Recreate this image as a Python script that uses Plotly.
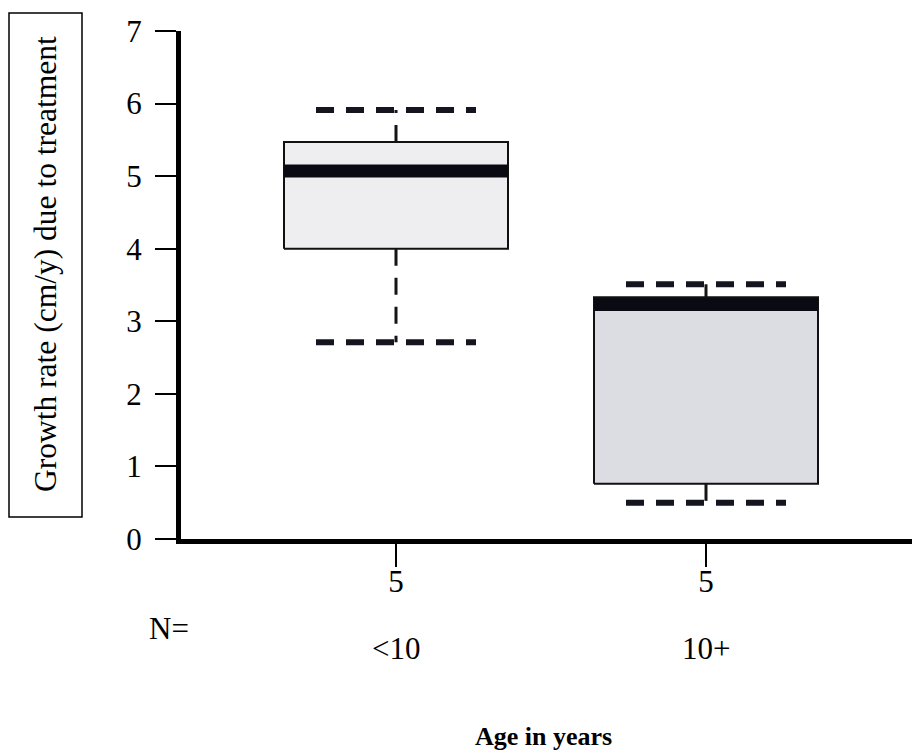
import plotly.graph_objects as go

# ---- data ----
categories = ["<10", "10+"]
n_counts = [5, 5]
lower_whisker = [2.71, 0.50]
q1 = [4.00, 0.76]
median = [5.07, 3.23]
q3 = [5.47, 3.33]
upper_whisker = [5.91, 3.51]
y_ticks = [0, 1, 2, 3, 4, 5, 6, 7]

# ---- layout / style ----
W, H = 912, 755
L, R, T, B = 181, 0, 31, 216
PW, PH = W - L - R, H - T - B
FONT = "Liberation Serif, Times New Roman, serif"
box_fills = ["#eeeef1", "#dcdce3"]
cx_px = [396, 706]                      # pixel centres of the two categories
ppu = cx_px[1] - cx_px[0]
x_range = [(L - cx_px[0]) / ppu, (W - R - cx_px[0]) / ppu]
half_box = 112 / ppu
half_cap = 80 / ppu


def px_x(px):
    return (px - L) / PW


def px_y(py):
    return (H - B - py) / PH


fig = go.Figure()
xs = list(range(len(categories)))
for i, xc in enumerate(xs):
    # box body
    fig.add_trace(go.Scatter(
        x=[xc - half_box, xc + half_box, xc + half_box, xc - half_box, xc - half_box],
        y=[q1[i], q1[i], q3[i], q3[i], q1[i]],
        mode="lines", fill="toself", fillcolor=box_fills[i],
        line=dict(color="#111111", width=2), hoverinfo="skip", showlegend=False))
    # whiskers
    for a, b in ((q3[i], upper_whisker[i]), (q1[i], lower_whisker[i])):
        fig.add_trace(go.Scatter(
            x=[xc, xc], y=[a, b], mode="lines",
            line=dict(color="#151515", width=3, dash="17px,12px"),
            hoverinfo="skip", showlegend=False))
    # whisker caps
    for v in (upper_whisker[i], lower_whisker[i]):
        fig.add_trace(go.Scatter(
            x=[xc - half_cap, xc + half_cap], y=[v, v], mode="lines",
            line=dict(color="#151520", width=6, dash="18px,12px"),
            hoverinfo="skip", showlegend=False))
    # median
    fig.add_trace(go.Scatter(
        x=[xc - half_box, xc + half_box], y=[median[i], median[i]], mode="lines",
        line=dict(color="#0a0a12", width=13),
        hoverinfo="skip", showlegend=False))

annotations = []
for i, xc in enumerate(xs):
    annotations.append(dict(x=xc, xref="x", y=px_y(648), yref="paper",
                            text=categories[i], showarrow=False,
                            font=dict(family=FONT, size=31, color="black"),
                            xanchor="center", yanchor="middle"))
annotations.append(dict(x=px_x(169), xref="paper", y=px_y(628), yref="paper",
                        text="N=", showarrow=False,
                        font=dict(family=FONT, size=31, color="black"),
                        xanchor="center", yanchor="middle"))
annotations.append(dict(x=px_x(543), xref="paper", y=px_y(736), yref="paper",
                        text="<b>Age in years</b>", showarrow=False,
                        font=dict(family=FONT, size=26, color="black"),
                        xanchor="center", yanchor="middle"))
annotations.append(dict(x=px_x(45), xref="paper", y=px_y(264), yref="paper",
                        text="Growth rate (cm/y) due to treatment", showarrow=False,
                        textangle=-90,
                        font=dict(family=FONT, size=31.5, color="black"),
                        xanchor="center", yanchor="middle"))

shapes = [dict(type="rect", xref="paper", yref="paper",
               x0=px_x(9), x1=px_x(82), y0=px_y(517), y1=px_y(13),
               line=dict(color="black", width=1.5), fillcolor="rgba(0,0,0,0)")]

fig.update_layout(
    width=W, height=H,
    margin=dict(l=L, r=R, t=T, b=B, pad=0),
    paper_bgcolor="white", plot_bgcolor="white",
    showlegend=False,
    annotations=annotations, shapes=shapes,
    xaxis=dict(range=x_range, showgrid=False, zeroline=False,
               showline=True, linecolor="black", linewidth=5,
               ticks="outside", ticklen=23, tickwidth=1.5, tickcolor="black",
               tickvals=xs, ticktext=[str(n) for n in n_counts],
               tickfont=dict(family=FONT, size=31, color="black"),
               ticklabelstandoff=-12),
    yaxis=dict(range=[0, 7], showgrid=False, zeroline=False,
               showline=True, linecolor="black", linewidth=5,
               ticks="outside", ticklen=21, tickwidth=1.5, tickcolor="black",
               tickvals=y_ticks, ticktext=[str(v) for v in y_ticks],
               tickfont=dict(family=FONT, size=31, color="black"),
               ticklabelstandoff=7),
)

fig.write_html("out.html", config={"displayModeBar": False},
               post_script="document.body.style.margin='0';")
